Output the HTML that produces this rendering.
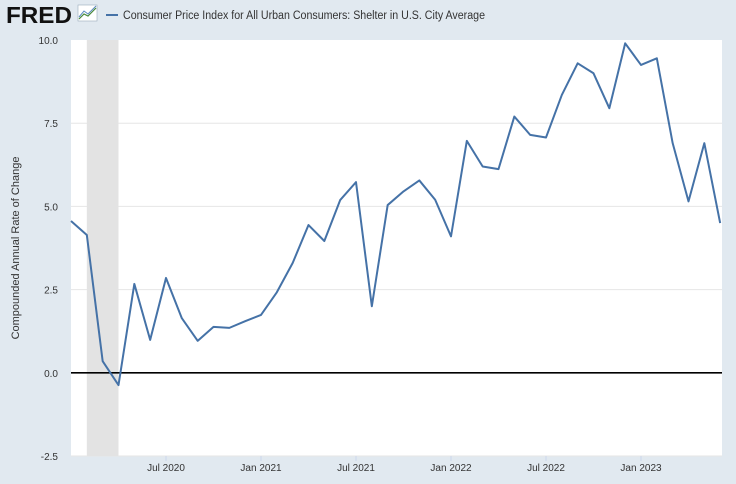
<!DOCTYPE html>
<html><head><meta charset="utf-8"><style>
body{margin:0;background:#e1e9f0;font-family:"Liberation Sans",sans-serif;}
svg{display:block}
</style></head><body>
<svg id="chart" width="736" height="484">
<rect x="0" y="0" width="736" height="484" fill="#e1e9f0"/>
<g>
<text x="6" y="23" font-size="23" font-weight="bold" fill="#111" font-family="Liberation Sans, sans-serif" textLength="66" lengthAdjust="spacingAndGlyphs">FRED</text>
<rect x="78" y="5" width="19" height="16" fill="#fff" stroke="#9ab" stroke-width="0.6"/>
<polyline points="79,19 84,14 88,16 96,8" fill="none" stroke="#4a8a3a" stroke-width="1.2"/>
<polyline points="79,17 84,11 88,14 96,6" fill="none" stroke="#5a8ac0" stroke-width="1"/>
</g>
<line x1="106" y1="15" x2="118" y2="15" stroke="#4572a7" stroke-width="2"/>
<text x="123" y="19" font-size="11.5" fill="#333" textLength="362" lengthAdjust="spacingAndGlyphs">Consumer Price Index for All Urban Consumers: Shelter in U.S. City Average</text>
<rect x="71" y="40" width="651" height="416" fill="#fff"/>
<g id="grid"></g><g id="rec"></g><g id="yt"></g><g id="xt"></g><g id="series"></g>
<text transform="translate(19,248) rotate(-90)" text-anchor="middle" font-size="11" fill="#333">Compounded Annual Rate of Change</text>
</svg>
<script>
const values=[4.56,4.14,0.35,-0.37,2.67,0.99,2.85,1.64,0.96,1.38,1.35,1.55,1.74,2.42,3.3,4.44,3.96,5.19,5.73,2.0,5.04,5.45,5.78,5.2,4.1,6.97,6.2,6.12,7.7,7.15,7.07,8.35,9.3,9.0,7.95,9.9,9.25,9.45,6.9,5.15,6.9,4.5];
const yTicks=[-2.5,0,2.5,5,7.5,10];
const yTickLabels=["-2.5","0.0","2.5","5.0","7.5","10.0"];
const xTickIdx=[6,12,18,24,30,36];
const xTickLabels=["Jul 2020","Jan 2021","Jul 2021","Jan 2022","Jul 2022","Jan 2023"];
const recession=[1,3];
const NS="http://www.w3.org/2000/svg";
const X0=71,X1=722,Y0=40,Y1=456;
const step=(641-71)/36;
function x(i){return X0+i*step;}
function y(v){return Y1-(v+2.5)/12.5*(Y1-Y0);}
function mk(tag,attrs,parent){const e=document.createElementNS(NS,tag);for(const k in attrs)e.setAttribute(k,attrs[k]);document.getElementById(parent).appendChild(e);return e;}
yTicks.forEach((t,i)=>{
  if(t!==0&&t!==10){const g=mk('line',{x1:X0,x2:X1,y1:y(t),y2:y(t),stroke:'#e6e6e6','stroke-width':1},'grid');
  
  }
  const l=mk('text',{x:58,y:y(t)+4,'text-anchor':'end','font-size':10,fill:'#333'},'yt');
  l.textContent=yTickLabels[i];
  
  
});
const r=mk('rect',{x:x(recession[0]),y:Y0,width:x(recession[1])-x(recession[0]),height:Y1-Y0,fill:'#e3e3e3'},'rec');


const z=mk('line',{x1:X0,x2:X1,y1:y(0),y2:y(0),stroke:'#000','stroke-width':1.6},'series');


xTickIdx.forEach((t,i)=>{
  const tk=mk('line',{x1:x(t),x2:x(t),y1:Y1,y2:Y1+5,stroke:'#ccd6eb'},'xt');
  
  
  const l=mk('text',{x:x(t),y:Y1+15,'text-anchor':'middle','font-size':10,fill:'#333'},'xt');
  l.textContent=xTickLabels[i];
  
  
});
const p=mk('polyline',{points:values.map((v,i)=>x(i)+','+y(v)).join(' '),fill:'none',stroke:'#4572a7','stroke-width':2,'stroke-linejoin':'round'},'series');


</script>
</body></html>
